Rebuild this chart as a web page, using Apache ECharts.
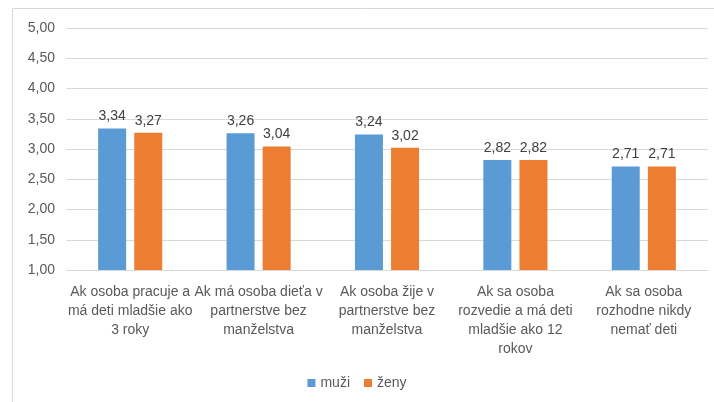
<!DOCTYPE html>
<html>
<head>
<meta charset="utf-8">
<script src="https://cdn.jsdelivr.net/npm/echarts@6/dist/echarts.min.js"></script>
<style>
  html, body { margin: 0; padding: 0; background: #fff; }
  #main { width: 714px; height: 402px; }
</style>
</head>
<body>
<div id="main"></div>
<script>
// kategórie (popisy osi x)
const categories = [
  'Ak osoba pracuje a\nmá deti mladšie ako\n3 roky',
  'Ak má osoba dieťa v\npartnerstve bez\nmanželstva',
  'Ak osoba žije v\npartnerstve bez\nmanželstva',
  'Ak sa osoba\nrozvedie a má deti\nmladšie ako 12\nrokov',
  'Ak sa osoba\nrozhodne nikdy\nnemať deti'
];
const muzi = [3.34, 3.26, 3.24, 2.82, 2.71];
const zeny = [3.27, 3.04, 3.02, 2.82, 2.71];

const font = 'Liberation Sans, Arial, sans-serif';
const fmt = v => v.toFixed(2).replace('.', ',');

const chart = echarts.init(document.getElementById('main'));
chart.setOption({
  animation: false,
  textStyle: { fontFamily: font },
  graphic: [{
    type: 'rect',
    shape: { x: 12.5, y: 8.5, width: 720, height: 420 },
    style: { fill: 'none', stroke: '#d9d9d9', lineWidth: 1 },
    silent: true
  }],
  grid: { left: 66, right: 6, top: 28, bottom: 132 },
  legend: {
    bottom: 7,
    left: 'center',
    itemWidth: 8,
    itemHeight: 8,
    itemGap: 14,
    icon: 'rect',
    textStyle: { color: '#595959', fontSize: 14, fontFamily: font },
    data: ['muži', 'ženy']
  },
  xAxis: {
    type: 'category',
    data: categories,
    axisLine: { lineStyle: { color: '#d9d9d9' } },
    axisTick: { show: false },
    axisLabel: {
      interval: 0,
      color: '#595959',
      fontSize: 14,
      lineHeight: 19,
      margin: 13,
      fontFamily: font
    }
  },
  yAxis: {
    type: 'value',
    min: 1,
    max: 5,
    interval: 0.5,
    axisLine: { show: false },
    axisTick: { show: false },
    splitLine: { lineStyle: { color: '#d9d9d9' } },
    axisLabel: {
      color: '#595959',
      fontSize: 14,
      margin: 11,
      fontFamily: font,
      formatter: fmt
    }
  },
  series: [
    {
      name: 'muži',
      type: 'bar',
      data: muzi,
      barWidth: 28,
      barGap: '29%',
      itemStyle: { color: '#5b9bd5' },
      label: {
        show: true,
        position: 'top',
        distance: 5,
        color: '#404040',
        fontSize: 14,
        fontFamily: font,
        formatter: p => fmt(p.value)
      }
    },
    {
      name: 'ženy',
      type: 'bar',
      data: zeny,
      barWidth: 28,
      itemStyle: { color: '#ed7d31' },
      label: {
        show: true,
        position: 'top',
        distance: 5,
        color: '#404040',
        fontSize: 14,
        fontFamily: font,
        formatter: p => fmt(p.value)
      }
    }
  ]
});
</script>
</body>
</html>
